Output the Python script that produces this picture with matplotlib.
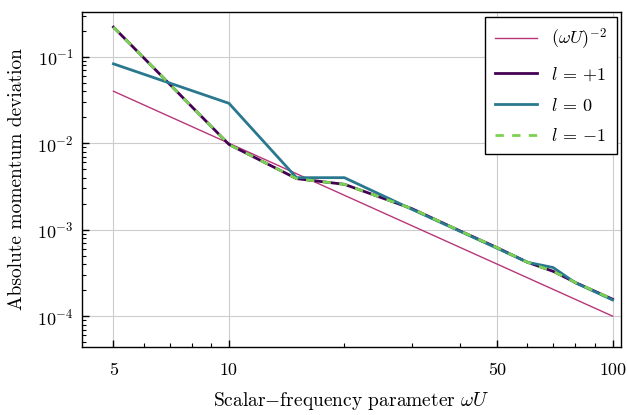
import numpy as np
import matplotlib
matplotlib.use("Agg")
import matplotlib.pyplot as plt
from matplotlib.ticker import FixedLocator, FixedFormatter, LogLocator, NullFormatter

plt.rcParams['font.family'] = 'serif'
plt.rcParams['font.serif'] = ['cmr10']
plt.rcParams['mathtext.fontset'] = 'cm'
plt.rcParams['axes.formatter.use_mathtext'] = True

# data
wU = [5, 10, 15, 20, 30, 40, 50, 60, 70, 80, 100]
dev_p1 = [0.221, 0.0097, 0.0039, 0.00335, 0.00175, 0.00097, 0.00062, 0.00042, 0.00033, 0.000245, 0.000157]
dev_0 = [0.083, 0.029, 0.0040, 0.0040, 0.00172, 0.00096, 0.00061, 0.00042, 0.000365, 0.000243, 0.000154]
dev_m1 = [0.221, 0.0097, 0.0039, 0.00335, 0.00175, 0.00097, 0.00062, 0.00042, 0.00033, 0.000245, 0.000157]
ref_x = [5, 100]
ref_y = [1 / 5**2, 1 / 100**2]

xticks = [5, 10, 50, 100]
xticklabels = ['5', '10', '50', '100']

fig = plt.figure(figsize=(6.28, 4.15), dpi=100)
ax = fig.add_axes([0.1306, 0.164, 0.859, 0.807])

ax.plot(ref_x, ref_y, color='#b73779', lw=1.0, label=r'$(\omega U)^{-2}$')
ax.plot(wU, dev_p1, color='#440154', lw=2.0, label=r'$l$ = +1')
ax.plot(wU, dev_0, color='#2a788e', lw=2.0, label=r'$l$ = 0')
ax.plot(wU, dev_m1, color='#7ad151', lw=2.0, ls=(0, (3, 3)), label=r'$l$ = $-1$')

ax.set_xscale('log')
ax.set_yscale('log')
ax.set_xlim(4.14, 105.5)
ax.set_ylim(4.4e-5, 0.33)

ax.xaxis.set_major_locator(FixedLocator(xticks))
ax.xaxis.set_major_formatter(FixedFormatter(xticklabels))
ax.xaxis.set_minor_locator(LogLocator(base=10, subs=np.arange(2, 10)))
ax.xaxis.set_minor_formatter(NullFormatter())
ax.yaxis.set_major_locator(LogLocator(base=10, numticks=10))
ax.yaxis.set_minor_locator(LogLocator(base=10, subs=np.arange(2, 10), numticks=10))
ax.yaxis.set_minor_formatter(NullFormatter())

ax.tick_params(which='both', direction='in', labelsize=13)
ax.tick_params(which='major', length=5, width=1)
ax.tick_params(which='minor', length=3, width=0.8)
ax.tick_params(axis='x', pad=11)
ax.tick_params(axis='y', pad=6)
ax.grid(True, which='major', color='#cccccc', lw=0.8)
for s in ax.spines.values():
    s.set_linewidth(1.0)

ax.set_xlabel('Scalar$-$frequency parameter $\\omega U$', fontsize=14, labelpad=9)
ax.set_ylabel('Absolute momentum deviation', fontsize=14, labelpad=8)

leg = ax.legend(loc='upper right', fontsize=13, fancybox=False, framealpha=1,
                edgecolor='black', borderaxespad=0.25, handlelength=2.3,
                labelspacing=0.75, borderpad=0.55)
leg.get_frame().set_linewidth(1.0)

fig.savefig('out.png', dpi=100)
